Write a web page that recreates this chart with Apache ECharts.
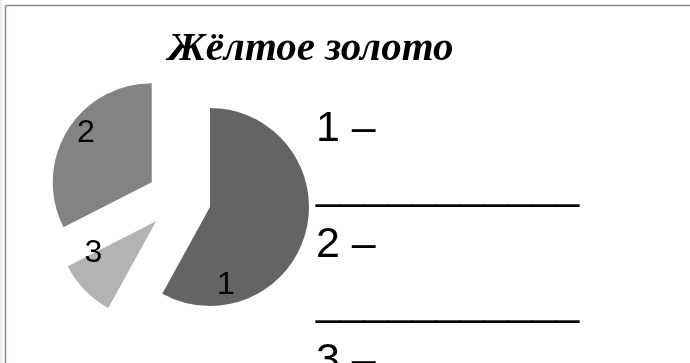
<!DOCTYPE html>
<html>
<head>
<meta charset="utf-8">
<script src="https://cdn.jsdelivr.net/npm/echarts@6/dist/echarts.min.js"></script>
<style>
  html, body { margin: 0; padding: 0; background: #fff; }
  #main { width: 690px; height: 363px; }
</style>
</head>
<body>
<div id="main"></div>
<script>
var title = 'Жёлтое золото';
// slices go clockwise from 12 o'clock in this order
var sliceNames = ['1', '3', '2'];
var sliceValues = [58, 9.5, 32.5];
var legendNames = ['1', '2', '3'];
var blank = '___________';

var sliceColors = { '1': '#646464', '2': '#838383', '3': '#b3b3b3' };
// nudges for the number labels, so they sit where the original had them
var labelShift = { '1': [-35, 65], '2': [-21, -22], '3': [-25, -5] };

var chart = echarts.init(document.getElementById('main'), null, { renderer: 'canvas' });

var pieData = sliceNames.map(function (n, i) {
  return {
    name: n,
    value: sliceValues[i],
    selected: true,
    itemStyle: { color: sliceColors[n] }
  };
});

var option = {
  backgroundColor: '#ffffff',
  animation: false,
  title: {
    text: title,
    left: 168,
    top: 29,
    padding: 0,
    textStyle: {
      fontFamily: 'Liberation Serif',
      fontStyle: 'italic',
      fontWeight: 'bold',
      fontSize: 41,
      color: '#000'
    }
  },
  legend: {
    orient: 'vertical',
    left: 306,
    top: 95,
    height: 600,
    itemGap: 0,
    itemWidth: 0,
    icon: 'none',
    selectedMode: false,
    data: legendNames,
    formatter: function (name) {
      return name + ' –\n' + blank;
    },
    textStyle: {
      fontFamily: 'Liberation Sans',
      fontSize: 43,
      lineHeight: 58,
      color: '#000'
    }
  },
  graphic: [
    { type: 'line', shape: { x1: 5.5, y1: 5.5, x2: 700, y2: 5.5 }, style: { stroke: '#7f8aa0', lineWidth: 1.5 }, silent: true },
    { type: 'line', shape: { x1: 5.5, y1: 5.5, x2: 5.5, y2: 400 }, style: { stroke: '#7f8aa0', lineWidth: 1.5 }, silent: true },
    { type: 'line', shape: { x1: 1, y1: 0, x2: 1, y2: 400 }, style: { stroke: '#d8d8d8', lineWidth: 1 }, silent: true }
  ],
  series: [{
    type: 'pie',
    center: [179, 199],
    radius: [0, 99],
    startAngle: 90,
    clockwise: true,
    selectedMode: 'multiple',
    selectedOffset: 32,
    avoidLabelOverlap: false,
    emphasis: { disabled: true },
    select: { itemStyle: { borderWidth: 0 } },
    label: {
      show: true,
      position: 'inside',
      formatter: '{b}',
      fontFamily: 'Liberation Sans',
      fontSize: 32,
      color: '#000'
    },
    labelLine: { show: false },
    labelLayout: function (params) {
      var s = labelShift[sliceNames[params.dataIndex]];
      return { dx: s[0], dy: s[1], fontSize: 32 };
    },
    data: pieData
  }]
};

chart.setOption(option);
</script>
</body>
</html>
